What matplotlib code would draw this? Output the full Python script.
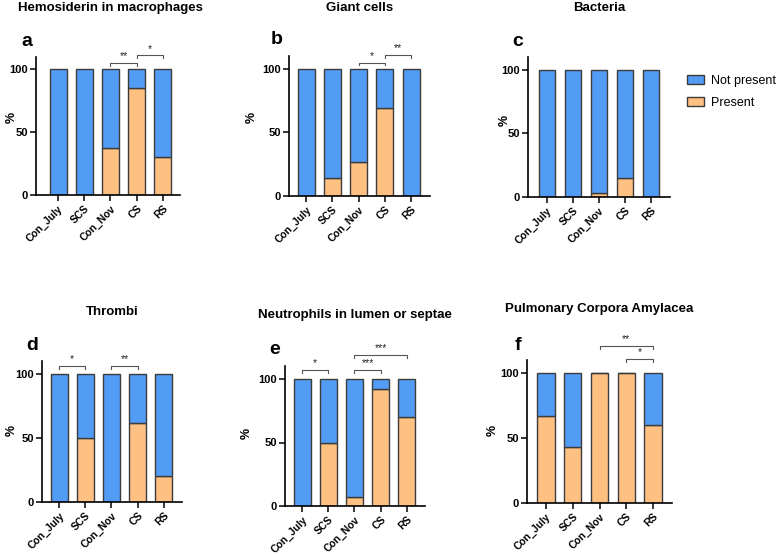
import matplotlib
matplotlib.use("Agg")
import matplotlib.pyplot as plt
from matplotlib.patches import Patch

plt.rcParams['font.family'] = ['Liberation Sans', 'DejaVu Sans']

categories = ["Con_July", "SCS", "Con_Nov", "CS", "RS"]
titles = ["Hemosiderin in macrophages", "Giant cells", "Bacteria",
          "Thrombi", "Neutrophils in lumen or septae", "Pulmonary Corpora Amylacea"]
letters = ["a", "b", "c", "d", "e", "f"]

present_a = [0, 0, 37, 85, 30]
present_b = [0, 14, 27, 69, 0]
present_c = [0, 0, 3, 15, 0]
present_d = [0, 50, 0, 62, 20]
present_e = [0, 50, 7, 92, 70]
present_f = [67, 43, 100, 100, 60]
present_all = [present_a, present_b, present_c, present_d, present_e, present_f]

# significance brackets: (group i, group j, height, label)
sig_a = [(2, 3, 105, "**"), (3, 4, 111, "*")]
sig_b = [(2, 3, 105, "*"), (3, 4, 111, "**")]
sig_c = []
sig_d = [(0, 1, 106, "*"), (2, 3, 106, "**")]
sig_e = [(0, 1, 107, "*"), (2, 3, 107, "***"), (2, 4, 119, "***")]
sig_f = [(2, 4, 121, "**"), (3, 4, 111, "*")]
sig_all = [sig_a, sig_b, sig_c, sig_d, sig_e, sig_f]

BLUE = "#519DF6"
ORANGE = "#FFC182"
EDGE = "#3c3c3c"

W, H = 778, 554
fig = plt.figure(figsize=(W / 100, H / 100), dpi=100)

# pixel layout: (left, right, y_of_0, y_of_100)
layout = [
    (36, 180, 195, 69.3),
    (289, 430, 196, 69),
    (528, 670, 197, 70),
    (42, 182, 502, 374),
    (285, 425, 506, 379),
    (527, 672, 503, 373),
]
xlims = [(-0.84, 4.65), (-0.65, 4.72), (-0.73, 4.73),
         (-0.65, 4.69), (-0.65, 4.69), (-0.71, 4.71)]
title_pos = [(110, 8), (360, 8), (599, 8), (112, 312), (355, 315), (599, 309)]
letter_pos = [(27, 42), (277, 40), (518, 41), (32, 345), (275, 350), (518, 345)]
pct_pos = [(12, 117), (252, 117), (505, 120), (12, 430), (247, 433), (493, 430)]

x = list(range(len(categories)))
for k in range(6):
    l, r, y0, y100 = layout[k]
    ppu = (y0 - y100) / 100.0
    ytop = y0 - 110 * ppu
    ax = fig.add_axes([l / W, 1 - y0 / H, (r - l) / W, (y0 - ytop) / H])
    pres = present_all[k]
    notp = [100 - p for p in pres]
    ax.bar(x, pres, width=0.65, color=ORANGE, edgecolor=EDGE, linewidth=1.0, zorder=2)
    ax.bar(x, notp, bottom=pres, width=0.65, color=BLUE, edgecolor=EDGE, linewidth=1.0, zorder=2)
    ax.set_ylim(0, 110)
    ax.set_xlim(*xlims[k])
    ax.set_yticks([0, 50, 100])
    ax.set_xticks(x)
    ax.set_xticklabels(categories, rotation=45, ha='right', rotation_mode='anchor',
                       fontsize=7.5, fontweight='bold')
    for t in ax.get_yticklabels():
        t.set_fontweight('bold')
        t.set_fontsize(8)
    ax.tick_params(axis='both', length=4, width=1.1, pad=2)
    for s in ['top', 'right']:
        ax.spines[s].set_visible(False)
    for s in ['left', 'bottom']:
        ax.spines[s].set_linewidth(1.2)
    for (i, j, h, lab) in sig_all[k]:
        ax.plot([i, i, j, j], [h - 2.2, h, h, h - 2.2], color="#555555", lw=0.8,
                clip_on=False, zorder=3)
        ax.text((i + j) / 2, h + 1.5, lab, ha='center', va='bottom', fontsize=7.5,
                color="#222222", clip_on=False)
    tx, ty = title_pos[k]
    fig.text(tx / W, 1 - ty / H, titles[k], ha='center', va='center',
             fontsize=9.5, fontweight='bold')
    lx, ly = letter_pos[k]
    fig.text(lx / W, 1 - ly / H, letters[k], ha='center', va='center',
             fontsize=14, fontweight='bold')
    px, py = pct_pos[k]
    fig.text(px / W, 1 - py / H, "%", ha='center', va='center', rotation=90,
             fontsize=9, fontweight='bold')

handles = [Patch(facecolor=BLUE, edgecolor=EDGE, linewidth=1.0, label="Not present"),
           Patch(facecolor=ORANGE, edgecolor=EDGE, linewidth=1.0, label="Present")]
fig.legend(handles=handles, loc='upper left', bbox_to_anchor=(687 / W, 1 - 75 / H),
           frameon=False, fontsize=9, handlelength=1.35, handleheight=0.7,
           handletextpad=0.6, labelspacing=0.8, borderaxespad=0, borderpad=0)

fig.savefig("out.png", dpi=100)
